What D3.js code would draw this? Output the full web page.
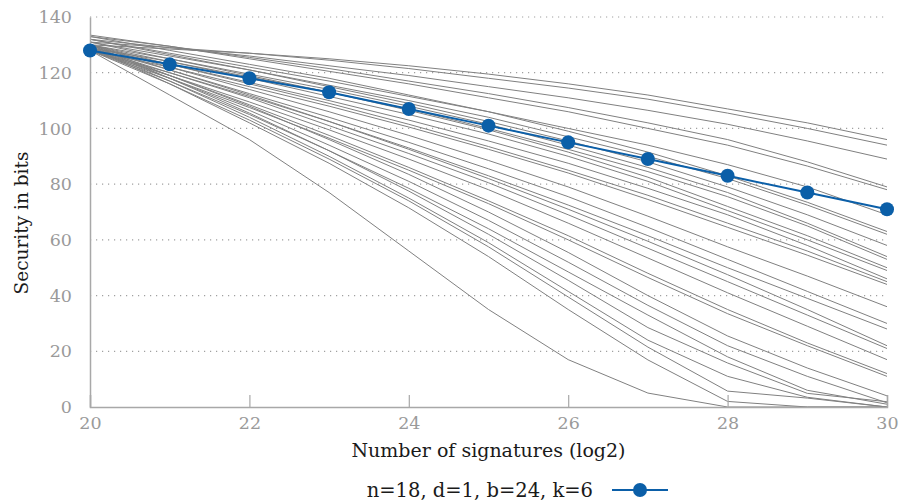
<!DOCTYPE html>
<html>
<head>
<meta charset="utf-8">
<script src="https://cdn.jsdelivr.net/npm/d3@7"></script>
<style>
  body { margin: 0; background: #fff; }
  text { font-family: "DejaVu Serif", serif; }
</style>
</head>
<body>
<div id="chart"></div>
<script>
// log2 of number of signatures
const signatures = [20, 21, 22, 23, 24, 25, 26, 27, 28, 29, 30];
const xTicks = [20, 22, 24, 26, 28, 30];
const yTicks = [0, 20, 40, 60, 80, 100, 120, 140];

// highlighted parameter set
const highlightLabel = 'n=18, d=1, b=24, k=6';
const highlightBits = [128, 123, 118, 113, 107, 101, 95, 89, 83, 77, 71];

// all other parameter sets (grey)
const otherBits = [
  [130, 128.5, 127, 125, 122.5, 119.5, 116, 112, 107, 102, 96],
  [131, 129, 127, 124.5, 121.5, 118, 114.5, 110.5, 105.5, 100, 94],
  [132, 129, 126, 122.5, 119, 115, 111, 106.5, 101.5, 95.5, 89],
  [133, 129.5, 125.5, 121.5, 117, 112.5, 107.5, 102, 96, 88, 79],
  [133.5, 129.5, 125, 120.5, 116, 111, 106, 100, 94, 86.5, 78],
  [132, 127, 122, 117, 111.5, 106, 100, 94, 87, 79, 69],
  [133, 128, 123, 118, 112, 106, 99, 91.5, 83, 73.5, 63],
  [131, 126, 121, 115.5, 110, 104, 97, 90, 82, 72.5, 62],
  [132, 126.5, 121, 115, 109, 102.5, 95.5, 88, 79, 69, 58],
  [130, 125, 119.5, 114, 108, 101.5, 94, 86, 77, 66, 54],
  [129, 124, 118.5, 113, 107, 100, 92.5, 84.5, 75.5, 65, 53],
  [131, 125, 119, 113, 106.5, 99.5, 91.5, 82.5, 72, 61.5, 50],
  [130, 124, 118, 111.5, 105, 98, 90, 81, 70.5, 60, 49],
  [129, 123, 116.5, 110, 103, 95.5, 87.5, 78.5, 69, 58, 46],
  [130, 123, 116, 109, 101.5, 93.5, 85, 76, 66, 56, 45],
  [128, 122, 115, 108, 100.5, 92.5, 84, 74.5, 64.5, 54.5, 44],
  [130, 122, 114, 106, 97.5, 88.5, 79, 68.5, 57.5, 47, 36],
  [129, 121, 112.5, 104, 95, 85.5, 75.5, 64.5, 53, 41.5, 30],
  [128, 120, 111.5, 102.5, 93, 83, 72.5, 61.5, 50, 39, 28],
  [130, 121, 112, 102.5, 92.5, 82, 71, 59.5, 47.5, 35, 22],
  [129, 120, 111, 101, 91, 80.5, 69, 57, 45, 33, 21],
  [128, 119, 109.5, 99.5, 89, 78, 66, 53.5, 41, 29, 17],
  [129, 119, 108.5, 97.5, 86, 74, 61.5, 48, 35, 23, 12],
  [128, 118, 107.5, 96.5, 85, 73, 60, 46.5, 33.5, 22, 11],
  [130, 119, 108, 96, 83.5, 70, 55.5, 40, 25.5, 14, 4],
  [129, 118, 106.5, 94, 81, 67, 52, 36.5, 22, 11, 1.5],
  [128, 117, 105, 92, 78.5, 64, 48.5, 33, 18, 6, 1],
  [130, 118, 105.5, 92, 77.5, 62, 45.5, 28.5, 15.8, 4.9, 1.9],
  [129, 117, 104, 90, 75, 59, 41.5, 24, 11, 3.5, 0],
  [128, 116, 103, 89, 74, 57.5, 39.5, 21.5, 5.7, 3.2, 0],
  [129, 116, 102, 87.5, 71.5, 54, 35, 16.9, 2, 0, 0],
  [128, 112, 96, 77, 56, 35, 17, 5, 0, 0, 0]
];

const width = 901, height = 504;
const margin = {top: 17, right: 14, bottom: 97, left: 90};
const plotW = width - margin.left - margin.right;
const plotH = height - margin.top - margin.bottom;

const svg = d3.select('#chart').append('svg')
    .attr('width', width)
    .attr('height', height);

const g = svg.append('g')
    .attr('transform', `translate(${margin.left},${margin.top})`);

const x = d3.scaleLinear().domain([20, 30]).range([0, plotW]);
const y = d3.scaleLinear().domain([0, 140]).range([plotH, 0]);

// dotted horizontal grid
g.selectAll('.grid')
    .data(yTicks.filter(d => d > 0))
    .enter()
    .append('line')
    .attr('class', 'grid')
    .attr('x1', 0)
    .attr('x2', plotW)
    .attr('y1', d => y(d))
    .attr('y2', d => y(d))
    .attr('stroke', '#a0a0a0')
    .attr('stroke-width', 1.2)
    .attr('stroke-dasharray', '1.2,4.8');

g.append('clipPath').attr('id', 'clip')
  .append('rect').attr('x', 0).attr('y', -10).attr('width', plotW + 1).attr('height', plotH + 10);

const line = d3.line()
    .x((d, i) => x(signatures[i]))
    .y(d => y(d));

const lines = g.append('g').attr('clip-path', 'url(#clip)');

lines.selectAll('.other')
    .data(otherBits)
    .enter()
    .append('path')
    .attr('class', 'other')
    .attr('d', line)
    .attr('fill', 'none')
    .attr('stroke', '#808080')
    .attr('stroke-width', 1);

// axes
const xAxis = d3.axisBottom(x).tickValues(xTicks).tickSize(-12).tickPadding(9).tickFormat(d3.format('d'));
const yAxis = d3.axisLeft(y).tickValues(yTicks).tickSize(0).tickPadding(18);

const gx = g.append('g')
    .attr('transform', `translate(0,${plotH})`)
    .call(xAxis);
const gy = g.append('g').call(yAxis);

[gx, gy].forEach(a => {
  a.select('.domain').attr('stroke', '#a8a8a8').attr('stroke-width', 1.5);
  a.selectAll('.tick line').attr('stroke', '#a8a8a8').attr('stroke-width', 1.2);
  a.selectAll('.tick text')
      .attr('fill', '#9a9a9a')
      .style('font-family', '"DejaVu Serif", serif')
      .style('font-size', '17.5px');
});
gx.selectAll('.tick text').attr('dy', '0.75em');

// highlighted series on top
g.append('path')
    .datum(highlightBits)
    .attr('d', line)
    .attr('fill', 'none')
    .attr('stroke', '#0b5fa8')
    .attr('stroke-width', 2);

g.selectAll('.dot')
    .data(highlightBits)
    .enter()
    .append('circle')
    .attr('class', 'dot')
    .attr('cx', (d, i) => x(signatures[i]))
    .attr('cy', d => y(d))
    .attr('r', 7)
    .attr('fill', '#0b5fa8');

// axis labels
svg.append('text')
    .text('Number of signatures (log2)')
    .attr('x', margin.left + plotW / 2)
    .attr('y', 457)
    .attr('text-anchor', 'middle')
    .attr('fill', '#1a1a1a')
    .style('font-size', '19px');

svg.append('text')
    .text('Security in bits')
    .attr('transform', `translate(28,223) rotate(-90)`)
    .attr('text-anchor', 'middle')
    .attr('fill', '#1a1a1a')
    .style('font-size', '18.5px');

// legend
const legend = svg.append('g').attr('transform', 'translate(0,490)');
legend.append('text')
    .text(highlightLabel)
    .attr('x', 593)
    .attr('y', 6.5)
    .attr('text-anchor', 'end')
    .attr('fill', '#1a1a1a')
    .style('font-size', '19.5px');
legend.append('line')
    .attr('x1', 612).attr('x2', 668)
    .attr('y1', 0).attr('y2', 0)
    .attr('stroke', '#0b5fa8')
    .attr('stroke-width', 2);
legend.append('circle')
    .attr('cx', 640).attr('cy', 0).attr('r', 7)
    .attr('fill', '#0b5fa8');
</script>
</body>
</html>
